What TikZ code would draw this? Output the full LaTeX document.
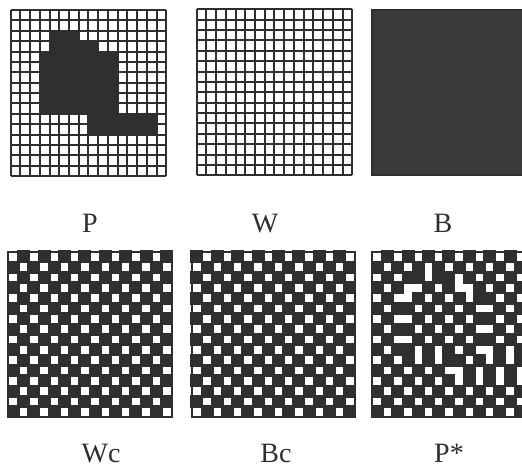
\documentclass[tikz,border=0pt]{standalone}
\usepackage{fontspec}
\setmainfont{Liberation Serif}
\definecolor{ink}{HTML}{2F2F2F}
\definecolor{slate}{HTML}{3A3A3A}
\tikzset{
  gridline/.style={draw=ink, line width=2pt},
  frameline/.style={draw=ink, line width=2pt},
  darkcell/.style={fill=ink, draw=ink, line width=2.8pt, line join=miter},
  lab/.style={font=\fontsize{28pt}{32pt}\selectfont, text=ink, inner sep=0pt, anchor=base},
}
% 16 x 16 line grid, origin at top left
\newcommand{\linegrid}[2]{%
  \begin{scope}[shift={(#1,#2)}, x=9.72pt, y=-10.38pt]
    \foreach \ii in {0,...,16}{
      \draw[gridline] (\ii,0) -- (\ii,16);
      \draw[gridline] (0,\ii) -- (16,\ii);
    }
  \end{scope}}
% checkerboard, #3 = phase, #4 = 1 to flip inside the P shape
\newcommand{\checkpanel}[4]{%
  \begin{scope}[shift={(#1,#2)}, x=10.2pt, y=-10.33pt]
    \fill[white] (0,0) rectangle (16,16);
    \foreach \ii in {0,...,15}{
      \foreach \jj in {0,...,15}{
        \pgfmathtruncatemacro{\inP}{((\ii==2)&&(\jj>3)&&(\jj<7))||((\ii==3)&&(\jj>3)&&(\jj<9))||((\ii>3)&&(\ii<10)&&(\jj>2)&&(\jj<11))||((\ii>9)&&(\ii<12)&&(\jj>7)&&(\jj<15))}
        \pgfmathtruncatemacro{\dk}{mod(\ii+\jj+#3+#4*\inP,2)}
        \ifnum\dk=1 \filldraw[darkcell] (\jj,\ii) rectangle ++(1,1);\fi
      }
    }
    \draw[frameline] (0,0) rectangle (16,16);
  \end{scope}}

\begin{document}
\begin{tikzpicture}[x=1pt, y=-1pt]
  \path[use as bounding box, clip] (0,0) rectangle (522,468);

  % top row
  \linegrid{10.7}{10}
  \begin{scope}[shift={(10.7,10)}, x=9.72pt, y=-10.38pt]
    \fill[ink] (4,2) -- (7,2) -- (7,3) -- (9,3) -- (9,4) -- (11,4) -- (11,10)
      -- (15,10) -- (15,12) -- (8,12) -- (8,10) -- (3,10) -- (3,4) -- (4,4) -- cycle;
  \end{scope}
  \linegrid{196.7}{9.3}
  \fill[slate] (371.7,10) rectangle (528,175);
  \draw[frameline] (371.7,10) rectangle (528,175);

  \node[lab] (labP) at (90,232) {P};
  \node[lab] (labW) at (265,232) {W};
  \node[lab] (labB) at (443,232) {B};

  % bottom row
  \checkpanel{8.3}{251.7}{0}{0}
  \checkpanel{191.7}{251.7}{1}{0}
  \checkpanel{372.3}{251.7}{0}{1}

  \node[lab] (labWc) at (101,462) {Wc};
  \node[lab] (labBc) at (276,462) {Bc};
  \node[lab] (labPs) at (449,462) {P*};
\end{tikzpicture}
\end{document}
